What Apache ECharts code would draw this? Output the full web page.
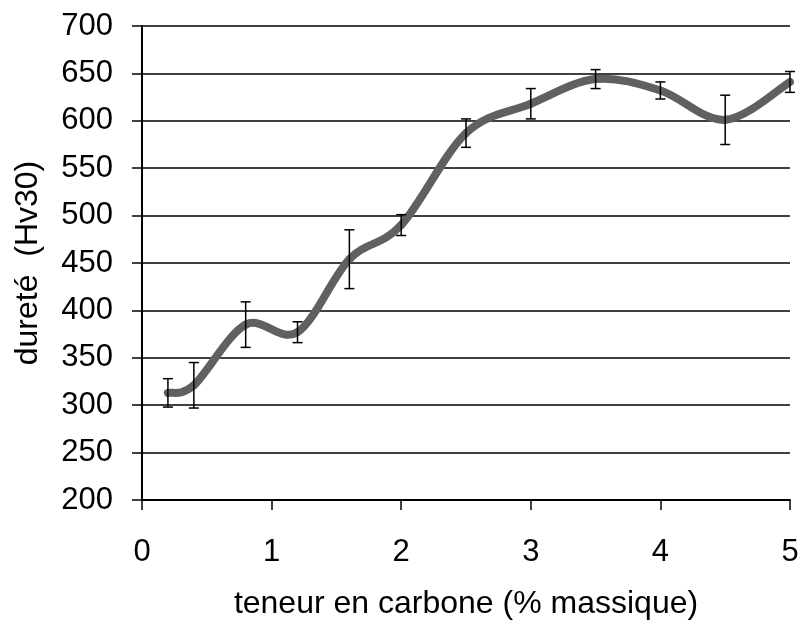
<!DOCTYPE html>
<html>
<head>
<meta charset="utf-8">
<script src="https://cdn.jsdelivr.net/npm/echarts@6/dist/echarts.min.js"></script>
<style>
  html, body { margin: 0; padding: 0; background: #fff; }
  #chart { width: 803px; height: 622px; }
</style>
</head>
<body>
<div id="chart"></div>
<script>
// teneur en carbone (% massique)
var carbone = [0.2, 0.4, 0.8, 1.2, 1.6, 2.0, 2.5, 3.0, 3.5, 4.0, 4.5, 5.0];
// dureté moyenne (Hv30)
var durete = [313, 321, 385, 377, 454, 490, 587, 618, 644, 632, 601, 641];
// demi-largeur des barres d'erreur
var erreur = [15, 24, 24, 11, 31, 11, 15, 16, 10, 9, 26, 11];

var lineData = carbone.map(function (c, i) { return [c, durete[i]]; });
var errData = carbone.map(function (c, i) { return [c, durete[i] - erreur[i], durete[i] + erreur[i]]; });

var chart = echarts.init(document.getElementById('chart'));
var font = 'Liberation Sans, Arial, sans-serif';
var fs = 31;

// courbe lissée façon tableur (Catmull-Rom) : un segment par point
function renderCurve(params, api) {
  var i = params.dataIndex;
  if (i >= lineData.length - 1) return null;
  var pt = function (k) {
    k = Math.max(0, Math.min(lineData.length - 1, k));
    return api.coord(lineData[k]);
  };
  var p0 = pt(i - 1), p1 = pt(i), p2 = pt(i + 1), p3 = pt(i + 2);
  var t = 1 / 6;
  return {
    type: 'bezierCurve',
    shape: {
      x1: p1[0], y1: p1[1], x2: p2[0], y2: p2[1],
      cpx1: p1[0] + (p2[0] - p0[0]) * t, cpy1: p1[1] + (p2[1] - p0[1]) * t,
      cpx2: p2[0] - (p3[0] - p1[0]) * t, cpy2: p2[1] - (p3[1] - p1[1]) * t
    },
    style: { stroke: '#606060', lineWidth: 8, fill: null, lineCap: 'round' }
  };
}

chart.setOption({
  animation: false,
  grid: { left: 142, right: 13, top: 26, bottom: 122, outerBoundsMode: 'none' },
  xAxis: {
    type: 'value',
    min: 0, max: 5, interval: 1,
    name: 'teneur en carbone (% massique)',
    nameLocation: 'middle',
    nameGap: 88,
    nameTextStyle: { color: '#000', fontSize: 32, fontFamily: font },
    axisLine: { lineStyle: { color: '#000', width: 2 } },
    axisTick: { show: true, length: 10, lineStyle: { color: '#000', width: 1.5 } },
    axisLabel: { color: '#000', fontSize: fs, fontFamily: font, margin: 37 },
    splitLine: { show: false }
  },
  yAxis: {
    type: 'value',
    min: 200, max: 700, interval: 50,
    name: 'dureté  (Hv30)',
    nameLocation: 'middle',
    nameGap: 98,
    nameTextStyle: { color: '#000', fontSize: 32, fontFamily: font },
    axisLine: { show: true, lineStyle: { color: '#000', width: 2 } },
    axisTick: { show: true, length: 10, lineStyle: { color: '#000', width: 1.5 } },
    axisLabel: { color: '#000', fontSize: fs, fontFamily: font, margin: 29 },
    splitLine: { show: true, lineStyle: { color: '#000', width: 1.5 } }
  },
  series: [
    {
      type: 'custom',
      data: lineData,
      renderItem: renderCurve,
      z: 3
    },
    {
      type: 'custom',
      data: errData,
      z: 4,
      renderItem: function (params, api) {
        var x = api.value(0);
        var lo = api.coord([x, api.value(1)]);
        var hi = api.coord([x, api.value(2)]);
        var cap = 5;
        var st = { stroke: '#000', lineWidth: 1.5 };
        return {
          type: 'group',
          children: [
            { type: 'line', shape: { x1: lo[0], y1: lo[1], x2: hi[0], y2: hi[1] }, style: st },
            { type: 'line', shape: { x1: lo[0] - cap, y1: lo[1], x2: lo[0] + cap, y2: lo[1] }, style: st },
            { type: 'line', shape: { x1: hi[0] - cap, y1: hi[1], x2: hi[0] + cap, y2: hi[1] }, style: st }
          ]
        };
      }
    }
  ]
});
</script>
</body>
</html>
